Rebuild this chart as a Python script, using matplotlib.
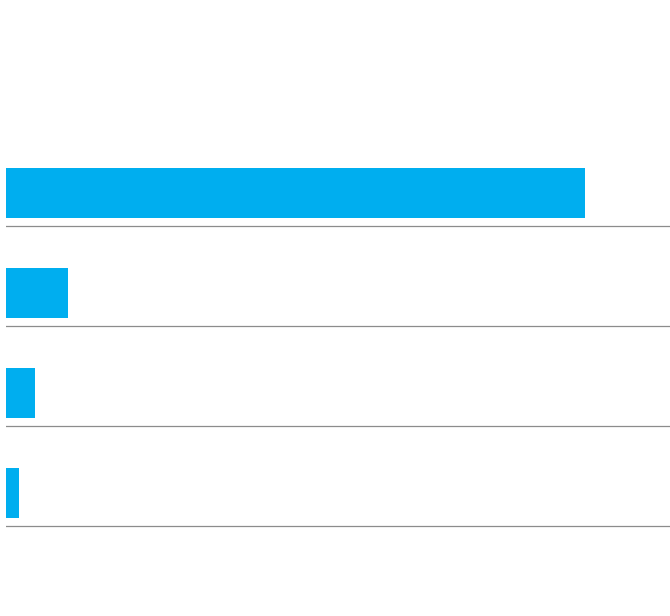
import matplotlib
matplotlib.use("Agg")
import matplotlib.pyplot as plt

# values as share of the axis (0-100)
categories = ["A", "B", "C", "D"]
values = [87.2, 9.4, 4.4, 1.9]

BAR_COLOR = "#00aeef"
LINE_COLOR = "#8c8c8c"

fig = plt.figure(figsize=(6.7, 6.16), dpi=100)
ax = fig.add_axes([6 / 670, 73 / 616, 664 / 670, 400 / 616])

pos = list(range(len(categories)))
ax.barh(pos, values, height=0.5, color=BAR_COLOR, edgecolor="none")

# thin grey rule under each bar
for p in pos:
    ax.axhline(p + 0.33, color=LINE_COLOR, linewidth=0.9)

ax.set_xlim(0, 100)
ax.set_ylim(3.5, -0.5)
ax.axis("off")

fig.savefig("out.png", dpi=100)
